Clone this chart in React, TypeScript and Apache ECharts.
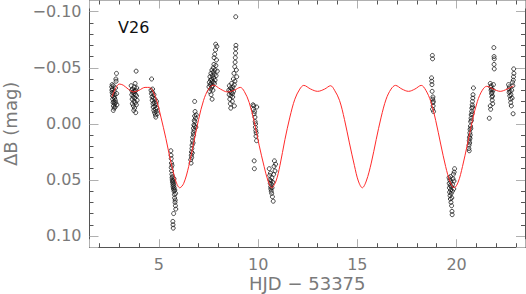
import React, { useEffect, useRef } from "react";
import * as echarts from "echarts";

// Model light curve (HJD - 53375, ΔB mag)
const modelCurve: [number, number][] = [
  [2.63, -0.024], [2.8, -0.031], [3.0, -0.0355], [3.2, -0.0345], [3.45, -0.031],
  [3.72, -0.0285], [4.0, -0.03], [4.3, -0.0325], [4.52, -0.0325], [4.7, -0.029],
  [4.9, -0.02], [5.1, -0.006], [5.35, 0.013], [5.6, 0.034], [5.85, 0.051],
  [6.05, 0.057], [6.25, 0.053], [6.5, 0.038], [6.75, 0.017], [7.0, -0.004],
  [7.25, -0.021], [7.5, -0.031], [7.75, -0.0345], [8.1, -0.031], [8.45, -0.0285],
  [8.8, -0.03], [9.1, -0.0325], [9.3, -0.029], [9.55, -0.019], [9.8, -0.002],
  [10.05, 0.019], [10.3, 0.038], [10.5, 0.051], [10.68, 0.057], [10.9, 0.051],
  [11.1, 0.037], [11.35, 0.014], [11.6, -0.006], [11.85, -0.022], [12.1, -0.031],
  [12.3, -0.0343], [12.65, -0.031], [13.0, -0.029], [13.35, -0.031], [13.65, -0.034],
  [13.85, -0.03], [14.1, -0.021], [14.35, -0.004], [14.6, 0.017], [14.85, 0.037],
  [15.05, 0.051], [15.25, 0.057], [15.45, 0.051], [15.7, 0.035], [15.95, 0.014],
  [16.2, -0.006], [16.45, -0.022], [16.7, -0.031], [16.92, -0.0343], [17.25, -0.031],
  [17.58, -0.029], [17.9, -0.031], [18.22, -0.0343], [18.45, -0.03], [18.7, -0.02],
  [18.95, -0.003], [19.2, 0.018], [19.45, 0.038], [19.68, 0.052], [19.88, 0.057],
  [20.08, 0.052], [20.3, 0.038], [20.55, 0.018], [20.8, -0.003], [21.05, -0.02],
  [21.3, -0.03], [21.52, -0.0335], [21.85, -0.031], [22.2, -0.029], [22.55, -0.031],
  [22.88, -0.034],
];

// Observations, one array per night
const night1: [number, number][] = [
  [2.62, -0.033], [2.63, -0.03], [2.64, -0.028], [2.65, -0.031], [2.66, -0.025], [2.67, -0.022],
  [2.68, -0.027], [2.69, -0.019], [2.7, -0.034], [2.71, -0.016], [2.72, -0.024], [2.73, -0.02],
  [2.74, -0.014], [2.75, -0.029], [2.76, -0.018], [2.77, -0.023], [2.78, -0.026], [2.79, -0.015],
  [2.8, -0.021], [2.81, -0.032], [2.82, -0.019], [2.83, -0.04], [2.84, -0.038], [2.86, -0.045],
  [2.87, -0.027], [2.88, -0.017], [2.64, -0.035], [2.7, -0.012],
];
const night2: [number, number][] = [
  [3.6, -0.034], [3.62, -0.03], [3.63, -0.026], [3.65, -0.022], [3.66, -0.018], [3.67, -0.031],
  [3.68, -0.028], [3.7, -0.024], [3.71, -0.016], [3.72, -0.029], [3.73, -0.012], [3.74, -0.02],
  [3.75, -0.027], [3.76, -0.033], [3.77, -0.014], [3.78, -0.023], [3.79, -0.029], [3.8, -0.036],
  [3.81, -0.019], [3.82, -0.026], [3.83, -0.01], [3.84, -0.03], [3.85, -0.047], [3.86, -0.017],
  [3.87, -0.025], [3.88, -0.032], [3.9, -0.021],
];
const night3: [number, number][] = [
  [4.6, -0.03], [4.62, -0.027], [4.63, -0.04], [4.65, -0.024], [4.66, -0.021], [4.68, -0.028],
  [4.7, -0.018], [4.71, -0.015], [4.72, -0.023], [4.74, -0.012], [4.75, -0.026], [4.76, -0.019],
  [4.78, -0.01], [4.79, -0.016], [4.8, -0.022], [4.82, -0.008], [4.83, -0.013], [4.85, -0.018],
  [4.86, -0.011], [4.88, -0.02], [4.9, -0.014], [4.92, -0.009], [4.68, -0.031], [4.84, -0.006],
];
const night4: [number, number][] = [
  [5.6, 0.024], [5.61, 0.028], [5.62, 0.031], [5.63, 0.035], [5.62, 0.039], [5.64, 0.042],
  [5.65, 0.045], [5.66, 0.048], [5.67, 0.05], [5.68, 0.052], [5.69, 0.047], [5.7, 0.054],
  [5.71, 0.056], [5.72, 0.051], [5.73, 0.058], [5.74, 0.053], [5.75, 0.055], [5.76, 0.06],
  [5.77, 0.057], [5.78, 0.063], [5.79, 0.066], [5.8, 0.059], [5.81, 0.07], [5.82, 0.068],
  [5.83, 0.073], [5.84, 0.062], [5.85, 0.076], [5.74, 0.08], [5.7, 0.087], [5.71, 0.09],
  [5.72, 0.093], [5.66, 0.037], [5.76, 0.049],
];
const night5: [number, number][] = [
  [6.6, 0.032], [6.62, 0.035], [6.63, 0.028], [6.64, 0.025], [6.65, 0.03], [6.66, 0.022],
  [6.67, 0.019], [6.68, 0.026], [6.69, 0.015], [6.7, 0.012], [6.72, 0.017], [6.73, 0.008],
  [6.74, 0.004], [6.75, 0.01], [6.76, 0.001], [6.77, 0.006], [6.78, -0.003], [6.79, 0.002],
  [6.8, -0.007], [6.81, -0.002], [6.82, -0.011], [6.8, -0.02], [6.84, -0.005], [6.86, 0.003],
  [6.88, -0.008],
];
const night6: [number, number][] = [
  [7.52, -0.033], [7.54, -0.037], [7.55, -0.029], [7.57, -0.042], [7.58, -0.035], [7.6, -0.039],
  [7.61, -0.031], [7.62, -0.045], [7.63, -0.026], [7.64, -0.036], [7.65, -0.04], [7.66, -0.033],
  [7.67, -0.048], [7.68, -0.022], [7.69, -0.038], [7.7, -0.043], [7.71, -0.034], [7.72, -0.03],
  [7.73, -0.046], [7.74, -0.05], [7.75, -0.037], [7.76, -0.041], [7.77, -0.053], [7.78, -0.059],
  [7.79, -0.044], [7.8, -0.036], [7.81, -0.062], [7.82, -0.048], [7.83, -0.039], [7.85, -0.066],
  [7.86, -0.071], [7.87, -0.052], [7.88, -0.043], [7.9, -0.057], [7.92, -0.069], [7.94, -0.047],
];
const night7: [number, number][] = [
  [8.52, -0.03], [8.54, -0.026], [8.55, -0.034], [8.57, -0.022], [8.58, -0.029], [8.6, -0.018],
  [8.61, -0.032], [8.62, -0.014], [8.63, -0.025], [8.65, -0.028], [8.66, -0.036], [8.68, -0.031],
  [8.7, -0.02], [8.71, -0.027], [8.73, -0.033], [8.75, -0.04], [8.76, -0.029], [8.78, -0.045],
  [8.8, -0.035], [8.82, -0.051], [8.83, -0.038], [8.84, -0.055], [8.85, -0.059], [8.86, -0.063],
  [8.87, -0.067], [8.88, -0.07], [8.9, -0.048], [8.87, -0.0955], [8.92, -0.042], [8.8, -0.016],
  [8.72, -0.024],
];
const night8: [number, number][] = [
  [9.74, -0.017], [9.76, -0.013], [9.78, -0.016], [9.8, -0.009], [9.82, -0.011], [9.84, -0.006],
  [9.85, -0.002], [9.86, 0.003], [9.87, 0.0], [9.88, 0.006], [9.89, 0.011], [9.9, 0.008],
  [9.92, 0.015], [9.8, 0.033], [9.81, 0.04], [9.93, -0.015],
];
const night9: [number, number][] = [
  [10.56, 0.04], [10.58, 0.046], [10.6, 0.05], [10.61, 0.053], [10.62, 0.044], [10.63, 0.056],
  [10.64, 0.058], [10.65, 0.051], [10.66, 0.06], [10.67, 0.054], [10.68, 0.062], [10.69, 0.048],
  [10.7, 0.057], [10.72, 0.065], [10.74, 0.052], [10.76, 0.069], [10.78, 0.045], [10.8, 0.038],
  [10.82, 0.033], [10.85, 0.042], [10.88, 0.036],
];
const night10: [number, number][] = [
  [18.78, -0.061], [18.79, -0.058], [18.74, -0.041], [18.75, -0.038], [18.76, -0.035], [18.77, -0.029],
  [18.8, -0.022], [18.81, -0.019], [18.82, -0.016], [18.79, -0.013], [18.83, -0.02], [18.84, -0.011],
  [18.81, -0.024],
];
const night11: [number, number][] = [
  [19.62, 0.048], [19.63, 0.053], [19.64, 0.057], [19.65, 0.061], [19.66, 0.05], [19.67, 0.064],
  [19.68, 0.055], [19.69, 0.067], [19.7, 0.059], [19.71, 0.052], [19.72, 0.07], [19.73, 0.062],
  [19.74, 0.056], [19.75, 0.073], [19.76, 0.066], [19.77, 0.078], [19.78, 0.081], [19.79, 0.06],
  [19.8, 0.054], [19.82, 0.049], [19.84, 0.045], [19.86, 0.058], [19.88, 0.043], [19.9, 0.04],
  [19.87, 0.051], [19.7, 0.047],
];
const night12: [number, number][] = [
  [20.62, 0.022], [20.63, 0.019], [20.64, 0.015], [20.65, 0.012], [20.66, 0.017], [20.67, 0.008],
  [20.68, 0.005], [20.69, 0.01], [20.7, 0.002], [20.71, -0.002], [20.72, 0.004], [20.73, -0.005],
  [20.74, -0.008], [20.75, -0.003], [20.76, -0.011], [20.77, -0.014], [20.78, -0.009], [20.79, -0.017],
  [20.8, -0.02], [20.81, -0.015], [20.82, -0.023], [20.83, -0.026], [20.85, -0.032], [20.64, 0.024],
  [20.68, 0.013],
];
const night13: [number, number][] = [
  [21.88, -0.068], [21.89, -0.06], [21.9, -0.058], [21.89, -0.053], [21.9, -0.049], [21.7, -0.036],
  [21.72, -0.033], [21.74, -0.03], [21.75, -0.034], [21.76, -0.027], [21.77, -0.031], [21.78, -0.024],
  [21.79, -0.028], [21.8, -0.021], [21.81, -0.025], [21.82, -0.018], [21.7, -0.016], [21.72, -0.013],
  [21.65, -0.005], [21.84, -0.03], [21.86, -0.035],
];
const night14: [number, number][] = [
  [22.88, -0.049], [22.89, -0.045], [22.87, -0.042], [22.62, -0.035], [22.64, -0.031], [22.65, -0.028],
  [22.66, -0.033], [22.68, -0.025], [22.7, -0.029], [22.72, -0.022], [22.73, -0.019], [22.74, -0.026],
  [22.76, -0.016], [22.78, -0.03], [22.8, -0.023], [22.82, -0.037], [22.84, -0.034], [22.86, -0.039],
  [22.85, -0.009],
];

const observations = [
  ...night1, ...night2, ...night3, ...night4, ...night5, ...night6, ...night7,
  ...night8, ...night9, ...night10, ...night11, ...night12, ...night13, ...night14,
];

const X_MIN = 1.5;
const X_MAX = 23.45;
const Y_MIN = -0.11;
const Y_MAX = 0.11;

const FONT = "DejaVu Sans";
const LABEL_COLOR = "#7a7a7a";
const DARK = "#555555";
const LIGHT = "#b0b0b0";

const fmtX = (v: number) => {
  const r = Math.round(v);
  return Math.abs(v - r) < 1e-6 && r % 5 === 0 ? String(r) : "";
};
const fmtY = (v: number) => {
  const r = Math.round(v * 100);
  if (Math.abs(v * 100 - r) > 1e-6 || r % 5 !== 0) return "";
  return (r < 0 ? "\u2212" : "") + (Math.abs(r) / 100).toFixed(2);
};

function xAx(position: "bottom" | "top", major: boolean, extra: any = {}) {
  const step = major ? 5 : 1;
  return {
    type: "value",
    position,
    min: X_MIN,
    max: X_MAX,
    minInterval: step,
    maxInterval: step,
    splitNumber: major ? 4 : 22,
    axisLine: major
      ? { show: false, onZero: false }
      : { show: true, onZero: false, lineStyle: { color: position === "top" ? LIGHT : DARK, width: 1 } },
    axisTick: { show: true, inside: true, length: major ? 8 : 4, lineStyle: { color: major ? LIGHT : DARK, width: 1 } },
    axisLabel: { show: false },
    splitLine: { show: false },
    ...extra,
  };
}
function yAx(position: "left" | "right", major: boolean, extra: any = {}) {
  const step = major ? 0.05 : 0.01;
  return {
    type: "value",
    position,
    inverse: true,
    min: Y_MIN,
    max: Y_MAX,
    minInterval: step,
    maxInterval: step,
    splitNumber: major ? 4 : 22,
    axisLine: major
      ? { show: false, onZero: false }
      : { show: true, onZero: false, lineStyle: { color: DARK, width: 1 } },
    axisTick: { show: true, inside: true, length: major ? 9 : 4, lineStyle: { color: major ? LIGHT : DARK, width: 1 } },
    axisLabel: { show: false },
    splitLine: { show: false },
    ...extra,
  };
}

export default function App() {
  const ref = useRef<HTMLDivElement>(null);
  useEffect(() => {
    if (!ref.current) return;
    const chart = echarts.init(ref.current, undefined, { renderer: "svg" });
    chart.setOption({
      animation: false,
      backgroundColor: "#ffffff",
      grid: {
        left: 89.5,
        right: 1,
        top: 0.5,
        bottom: 46.8,
        containLabel: false,
        outerBoundsMode: "none",
      },
      xAxis: [
        xAx("bottom", false),
        xAx("bottom", true, {
          axisLabel: { show: true, margin: 9, formatter: fmtX, color: LABEL_COLOR, fontFamily: FONT, fontSize: 16 },
          name: "HJD \u2212 53375",
          nameLocation: "middle",
          nameGap: 27,
          nameMoveOverlap: false,
          nameTextStyle: { color: LABEL_COLOR, fontFamily: FONT, fontSize: 18, lineHeight: 18 },
        }),
        xAx("top", false),
        xAx("top", true),
      ],
      yAxis: [
        yAx("left", false),
        yAx("left", true, {
          axisLabel: { show: true, margin: 8, formatter: fmtY, color: LABEL_COLOR, fontFamily: FONT, fontSize: 16 },
          name: "\u0394B (mag)",
          nameLocation: "middle",
          nameGap: 70,
          nameMoveOverlap: false,
          nameTextStyle: { color: LABEL_COLOR, fontFamily: FONT, fontSize: 18 },
        }),
        yAx("right", false),
        yAx("right", true),
      ],
      graphic: [
        {
          type: "text",
          left: 118,
          top: 19,
          style: { text: "V26", font: `16px "${FONT}"`, fill: "#111111" },
        },
      ],
      series: [
        {
          type: "scatter",
          xAxisIndex: 0,
          yAxisIndex: 0,
          data: observations,
          symbol: "circle",
          symbolSize: 4,
          itemStyle: { color: "rgba(0,0,0,0)", borderColor: "#1a1a1a", borderWidth: 1 },
          z: 2,
        },
        {
          type: "line",
          xAxisIndex: 0,
          yAxisIndex: 0,
          data: modelCurve,
          smooth: 0.35,
          showSymbol: false,
          symbol: "none",
          lineStyle: { color: "#ff2a2a", width: 1 },
          z: 3,
        },
      ],
    });
    return () => chart.dispose();
  }, []);
  return <div ref={ref} style={{ position: "fixed", left: 0, top: 0, width: 526, height: 294 }} />;
}
